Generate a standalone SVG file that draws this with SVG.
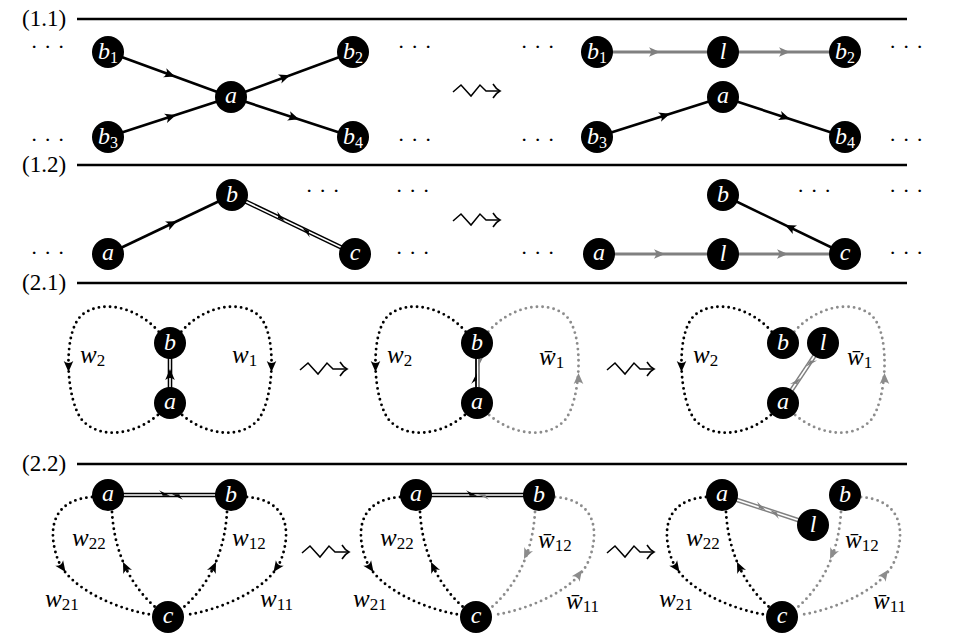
<svg xmlns="http://www.w3.org/2000/svg" xmlns:xlink="http://www.w3.org/1999/xlink" width="954" height="634" viewBox="0 0 954 634">
<defs>
<style>
.rule{stroke:#000;stroke-width:2.6}
.sec{font-family:"Liberation Serif",serif;font-size:23px;fill:#000}
.dots{font-family:"Liberation Serif",serif;font-size:22px;fill:#000;letter-spacing:6.2px}
.nd circle{fill:#000}
.nd text{font-family:"Liberation Serif",serif;font-style:italic;font-size:24px;fill:#fff;text-anchor:middle}
.sub{font-style:normal;font-size:16px}
.e{stroke:#000;stroke-width:2.6;fill:none}
.g{stroke:#808080;stroke-width:3.2;fill:none}
.dk{stroke:#000;stroke-width:2.9;stroke-dasharray:0 5.6;stroke-linecap:round;fill:none}
.dg{stroke:#8c8c8c;stroke-width:2.9;stroke-dasharray:0 5.6;stroke-linecap:round;fill:none}
.dblk{stroke:#000;stroke-width:4.6;fill:none}
.dblg{stroke:#808080;stroke-width:4.6;fill:none}
.dbli{stroke:#fff;stroke-width:1.6;fill:none}
.wl{font-family:"Liberation Serif",serif;font-style:italic;font-size:25px;fill:#000}
.wl .sub{font-size:17px}
</style>
<path id="ah" d="M0,0 L-11,-4.8 Q-7,0 -11,4.8 Z"/>
<path id="hh" d="M0,0.8 L-11,-4.8 Q-7.5,-1.5 -7.5,0.8 Z"/>
<g id="sq" stroke="#000" stroke-width="1.5" fill="none"><path d="M0,1 L8,-6 L18,5 L27,-6 L33,0 L47,0"/><path d="M40,-7 Q43,-2 47,0 Q43,2 40,7"/></g>
</defs>
<rect width="954" height="634" fill="#fff"/>

<g id="rules">
<line class="rule" x1="77" y1="19" x2="907" y2="19"/>
<line class="rule" x1="77" y1="165" x2="907" y2="165"/>
<line class="rule" x1="77" y1="283" x2="907" y2="283"/>
<line class="rule" x1="77" y1="464" x2="907" y2="464"/>
<text class="sec" x="22" y="26">(1.1)</text>
<text class="sec" x="22" y="172">(1.2)</text>
<text class="sec" x="22" y="290">(2.1)</text>
<text class="sec" x="22" y="471">(2.2)</text>
</g>

<g id="ellipses">
<text class="dots" x="30.5" y="54">···</text>
<text class="dots" x="30.5" y="146.5">···</text>
<text class="dots" x="397.5" y="54">···</text>
<text class="dots" x="397.5" y="146.5">···</text>
<text class="dots" x="520.5" y="54">···</text>
<text class="dots" x="520.5" y="146.5">···</text>
<text class="dots" x="889" y="54">···</text>
<text class="dots" x="889" y="146.5">···</text>
<text class="dots" x="30.5" y="259.5">···</text>
<text class="dots" x="305.5" y="197.5">···</text>
<text class="dots" x="395.5" y="197.5">···</text>
<text class="dots" x="395.5" y="259.5">···</text>
<text class="dots" x="520.5" y="259.5">···</text>
<text class="dots" x="797" y="197.5">···</text>
<text class="dots" x="889" y="197.5">···</text>
<text class="dots" x="889" y="259.5">···</text>
</g>

<g id="transitions">
<use xlink:href="#sq" href="#sq" transform="translate(453,91)"/>
<use xlink:href="#sq" href="#sq" transform="translate(453,220)"/>
<use xlink:href="#sq" href="#sq" transform="translate(300,369)"/>
<use xlink:href="#sq" href="#sq" transform="translate(607,369)"/>
<use xlink:href="#sq" href="#sq" transform="translate(302,552)"/>
<use xlink:href="#sq" href="#sq" transform="translate(607,552)"/>
</g>

<g id="connectors">
<!-- (1.1) left -->
<line class="e" x1="108" y1="52" x2="231" y2="97"/>
<line class="e" x1="108" y1="137" x2="231" y2="97"/>
<line class="e" x1="231" y1="97" x2="353" y2="52"/>
<line class="e" x1="231" y1="97" x2="353" y2="137"/>
<use href="#ah" xlink:href="#ah" fill="#000" transform="translate(175,76.5) rotate(20.1)"/>
<use href="#ah" xlink:href="#ah" fill="#000" transform="translate(176,115) rotate(-18)"/>
<use href="#ah" xlink:href="#ah" fill="#000" transform="translate(290,75.3) rotate(-20.2)"/>
<use href="#ah" xlink:href="#ah" fill="#000" transform="translate(299,119.3) rotate(18.2)"/>
<!-- (1.1) right -->
<line class="g" x1="597" y1="52" x2="845" y2="52"/>
<line class="e" x1="597" y1="137" x2="723" y2="97"/>
<line class="e" x1="723" y1="97" x2="845" y2="137"/>
<use href="#ah" xlink:href="#ah" fill="#808080" transform="translate(660,52)"/>
<use href="#ah" xlink:href="#ah" fill="#808080" transform="translate(790,52)"/>
<use href="#ah" xlink:href="#ah" fill="#000" transform="translate(670,113.8) rotate(-17.6)"/>
<use href="#ah" xlink:href="#ah" fill="#000" transform="translate(790,119) rotate(18.2)"/>
<!-- (1.2) left -->
<line class="e" x1="108" y1="254" x2="232" y2="195"/>
<use href="#ah" xlink:href="#ah" fill="#000" transform="translate(177,221.2) rotate(-25.4)"/>
<line class="dblk" x1="232" y1="195" x2="355" y2="254"/>
<line class="dbli" x1="232" y1="195" x2="355" y2="254"/>
<use href="#hh" xlink:href="#hh" fill="#000" transform="translate(285,220.4) rotate(25.6)"/>
<use href="#hh" xlink:href="#hh" fill="#000" transform="translate(302,228.5) rotate(205.6)"/>
<!-- (1.2) right -->
<line class="g" x1="599" y1="254" x2="845" y2="254"/>
<use href="#ah" xlink:href="#ah" fill="#808080" transform="translate(665,254)"/>
<use href="#ah" xlink:href="#ah" fill="#808080" transform="translate(788,254)"/>
<line class="e" x1="845" y1="254" x2="723" y2="195"/>
<use href="#ah" xlink:href="#ah" fill="#000" transform="translate(785,225) rotate(205.8)"/>

<!-- (2.1) panel 1 -->
<path class="dk" d="M158.7,331.7 C135,305 100,300 82,315 C62,332 66,400 82,420 C100,440 135,435 158.7,414.3"/>
<path class="dk" d="M181.3,331.7 C205,305 240,300 258,315 C278,332 274,400 258,420 C240,440 205,435 181.3,414.3"/>
<use href="#ah" xlink:href="#ah" fill="#000" transform="translate(68.5,372) rotate(90)"/>
<use href="#ah" xlink:href="#ah" fill="#000" transform="translate(271.5,372) rotate(90)"/>
<line class="dblk" x1="170" y1="343" x2="170" y2="403"/>
<line class="dbli" x1="170" y1="343" x2="170" y2="403"/>
<use href="#ah" xlink:href="#ah" fill="#000" transform="translate(170,369) rotate(-90)"/>
<!-- (2.1) panel 2 -->
<g transform="translate(307,0)">
<path class="dk" d="M158.7,331.7 C135,305 100,300 82,315 C62,332 66,400 82,420 C100,440 135,435 158.7,414.3"/>
<path class="dg" d="M181.3,331.7 C205,305 240,300 258,315 C278,332 274,400 258,420 C240,440 205,435 181.3,414.3"/>
</g>
<use href="#ah" xlink:href="#ah" fill="#000" transform="translate(375.5,372) rotate(90)"/>
<use href="#ah" xlink:href="#ah" fill="#8c8c8c" transform="translate(578.5,373) rotate(-90)"/>
<line stroke="#000" stroke-width="1.8" x1="476" y1="343" x2="476" y2="403"/>
<line stroke="#808080" stroke-width="1.8" x1="479" y1="343" x2="479" y2="403"/>
<use href="#hh" xlink:href="#hh" fill="#000" transform="translate(476,373) rotate(-90)"/>
<use href="#hh" xlink:href="#hh" fill="#808080" transform="translate(479,367) rotate(90)"/>
<!-- (2.1) panel 3 -->
<g transform="translate(613,0)">
<path class="dk" d="M158.7,331.7 C135,305 100,300 82,315 C62,332 66,400 82,420 C100,440 135,435 158.7,414.3"/>
<path class="dg" d="M181.3,331.7 C205,305 240,300 258,315 C278,332 274,400 258,420 C240,440 205,435 181.3,414.3"/>
</g>
<use href="#ah" xlink:href="#ah" fill="#000" transform="translate(681.5,372) rotate(90)"/>
<use href="#ah" xlink:href="#ah" fill="#8c8c8c" transform="translate(884.5,373) rotate(-90)"/>
<line class="dblg" x1="783" y1="403" x2="823" y2="343"/>
<line class="dbli" x1="783" y1="403" x2="823" y2="343"/>
<use href="#hh" xlink:href="#hh" fill="#808080" transform="translate(800,377.5) rotate(-56.3)"/>
<use href="#hh" xlink:href="#hh" fill="#808080" transform="translate(807,367) rotate(123.7)"/>

<!-- (2.2) panel 1 -->
<path class="dk" d="M92,497 C52,500 47,530 58,560 C70,590 120,610 153,615"/>
<path class="dk" d="M112,512 C114,545 125,580 155,607"/>
<path class="dk" d="M227,512 C225,545 214,580 184,607"/>
<path class="dk" d="M247,497 C287,500 292,530 281,560 C269,590 219,610 186,615"/>
<use href="#ah" xlink:href="#ah" fill="#000" transform="translate(65.5,572) rotate(55)"/>
<use href="#ah" xlink:href="#ah" fill="#000" transform="translate(123,562) rotate(-115)"/>
<use href="#ah" xlink:href="#ah" fill="#000" transform="translate(216,562) rotate(-65)"/>
<use href="#ah" xlink:href="#ah" fill="#000" transform="translate(273.5,572) rotate(125)"/>
<line class="dblk" x1="108" y1="495" x2="231" y2="495"/>
<line class="dbli" x1="108" y1="495" x2="231" y2="495"/>
<use href="#hh" xlink:href="#hh" fill="#000" transform="translate(170,495)"/>
<use href="#hh" xlink:href="#hh" fill="#000" transform="translate(172,495) rotate(180)"/>
<!-- (2.2) panel 2 -->
<g transform="translate(308,0)">
<path class="dk" d="M92,497 C52,500 47,530 58,560 C70,590 120,610 153,615"/>
<path class="dk" d="M112,512 C114,545 125,580 155,607"/>
<path class="dg" d="M227,512 C225,545 214,580 184,607"/>
<path class="dg" d="M247,497 C287,500 292,530 281,560 C269,590 219,610 186,615"/>
</g>
<use href="#ah" xlink:href="#ah" fill="#000" transform="translate(373.5,572) rotate(55)"/>
<use href="#ah" xlink:href="#ah" fill="#000" transform="translate(431,562) rotate(-115)"/>
<use href="#ah" xlink:href="#ah" fill="#8c8c8c" transform="translate(524,559) rotate(115)"/>
<use href="#ah" xlink:href="#ah" fill="#8c8c8c" transform="translate(582,570) rotate(-55)"/>
<line class="dblk" x1="416" y1="495" x2="539" y2="495"/>
<line class="dbli" x1="416" y1="495" x2="539" y2="495"/>
<use href="#hh" xlink:href="#hh" fill="#000" transform="translate(477,495)"/>
<use href="#hh" xlink:href="#hh" fill="#808080" transform="translate(478,495) rotate(180)"/>
<!-- (2.2) panel 3 -->
<g transform="translate(614,0)">
<path class="dk" d="M92,497 C52,500 47,530 58,560 C70,590 120,610 153,615"/>
<path class="dk" d="M112,512 C114,545 125,580 155,607"/>
<path class="dg" d="M227,512 C225,545 214,580 184,607"/>
<path class="dg" d="M247,497 C287,500 292,530 281,560 C269,590 219,610 186,615"/>
</g>
<use href="#ah" xlink:href="#ah" fill="#000" transform="translate(679.5,572) rotate(55)"/>
<use href="#ah" xlink:href="#ah" fill="#000" transform="translate(737,562) rotate(-115)"/>
<use href="#ah" xlink:href="#ah" fill="#8c8c8c" transform="translate(830,559) rotate(115)"/>
<use href="#ah" xlink:href="#ah" fill="#8c8c8c" transform="translate(888,570) rotate(-55)"/>
<line class="dblg" x1="722" y1="495" x2="813" y2="525"/>
<line class="dbli" x1="722" y1="495" x2="813" y2="525"/>
<use href="#hh" xlink:href="#hh" fill="#808080" transform="translate(766,509.5) rotate(18.2)"/>
<use href="#hh" xlink:href="#hh" fill="#808080" transform="translate(770,511) rotate(198.2)"/>
</g>

<g id="edge-labels">
<text class="wl" x="80" y="363">w<tspan class="sub" dy="3">2</tspan></text>
<text class="wl" x="232" y="363">w<tspan class="sub" dy="3">1</tspan></text>
<text class="wl" x="387" y="363">w<tspan class="sub" dy="3">2</tspan></text>
<text class="wl" x="539" y="365">w̄<tspan class="sub" dy="3">1</tspan></text>
<text class="wl" x="693" y="363">w<tspan class="sub" dy="3">2</tspan></text>
<text class="wl" x="847" y="365">w̄<tspan class="sub" dy="3">1</tspan></text>
<text class="wl" x="72" y="546">w<tspan class="sub" dy="3">22</tspan></text>
<text class="wl" x="232" y="546">w<tspan class="sub" dy="3">12</tspan></text>
<text class="wl" x="45" y="607">w<tspan class="sub" dy="3">21</tspan></text>
<text class="wl" x="260" y="607">w<tspan class="sub" dy="3">11</tspan></text>
<text class="wl" x="380" y="546">w<tspan class="sub" dy="3">22</tspan></text>
<text class="wl" x="538" y="548">w̄<tspan class="sub" dy="3">12</tspan></text>
<text class="wl" x="353" y="607">w<tspan class="sub" dy="3">21</tspan></text>
<text class="wl" x="566" y="609">w̄<tspan class="sub" dy="3">11</tspan></text>
<text class="wl" x="686" y="546">w<tspan class="sub" dy="3">22</tspan></text>
<text class="wl" x="845" y="548">w̄<tspan class="sub" dy="3">12</tspan></text>
<text class="wl" x="659" y="607">w<tspan class="sub" dy="3">21</tspan></text>
<text class="wl" x="873" y="609">w̄<tspan class="sub" dy="3">11</tspan></text>
</g>

<!-- nodes (1.1) left -->
<g id="n11L-b1" class="nd"><circle cx="108" cy="52" r="16"/><text x="108" y="59">b<tspan class="sub" dy="4">1</tspan></text></g>
<g id="n11L-b2" class="nd"><circle cx="353" cy="52" r="16"/><text x="353" y="59">b<tspan class="sub" dy="4">2</tspan></text></g>
<g id="n11L-a" class="nd"><circle cx="231" cy="97" r="16"/><text x="231" y="103">a</text></g>
<g id="n11L-b3" class="nd"><circle cx="108" cy="137" r="16"/><text x="108" y="144">b<tspan class="sub" dy="4">3</tspan></text></g>
<g id="n11L-b4" class="nd"><circle cx="353" cy="137" r="16"/><text x="353" y="144">b<tspan class="sub" dy="4">4</tspan></text></g>
<!-- (1.1) right -->
<g id="n11R-b1" class="nd"><circle cx="597" cy="52" r="16"/><text x="597" y="59">b<tspan class="sub" dy="4">1</tspan></text></g>
<g id="n11R-l" class="nd"><circle cx="723" cy="52" r="16"/><text x="723" y="59">l</text></g>
<g id="n11R-b2" class="nd"><circle cx="845" cy="52" r="16"/><text x="845" y="59">b<tspan class="sub" dy="4">2</tspan></text></g>
<g id="n11R-a" class="nd"><circle cx="723" cy="97" r="16"/><text x="723" y="103">a</text></g>
<g id="n11R-b3" class="nd"><circle cx="597" cy="137" r="16"/><text x="597" y="144">b<tspan class="sub" dy="4">3</tspan></text></g>
<g id="n11R-b4" class="nd"><circle cx="845" cy="137" r="16"/><text x="845" y="144">b<tspan class="sub" dy="4">4</tspan></text></g>
<!-- (1.2) -->
<g id="n12L-a" class="nd"><circle cx="108" cy="254" r="16"/><text x="108" y="260">a</text></g>
<g id="n12L-b" class="nd"><circle cx="232" cy="195" r="16"/><text x="232" y="202">b</text></g>
<g id="n12L-c" class="nd"><circle cx="355" cy="254" r="16"/><text x="355" y="260">c</text></g>
<g id="n12R-a" class="nd"><circle cx="599" cy="254" r="16"/><text x="599" y="260">a</text></g>
<g id="n12R-l" class="nd"><circle cx="723" cy="254" r="16"/><text x="723" y="261">l</text></g>
<g id="n12R-c" class="nd"><circle cx="845" cy="254" r="16"/><text x="845" y="260">c</text></g>
<g id="n12R-b" class="nd"><circle cx="723" cy="195" r="16"/><text x="723" y="202">b</text></g>
<!-- (2.1) -->
<g id="n21A-b" class="nd"><circle cx="170" cy="343" r="16"/><text x="170" y="350">b</text></g>
<g id="n21A-a" class="nd"><circle cx="170" cy="403" r="16"/><text x="170" y="409">a</text></g>
<g id="n21B-b" class="nd"><circle cx="477" cy="343" r="16"/><text x="477" y="350">b</text></g>
<g id="n21B-a" class="nd"><circle cx="477" cy="403" r="16"/><text x="477" y="409">a</text></g>
<g id="n21C-b" class="nd"><circle cx="783" cy="343" r="16"/><text x="783" y="350">b</text></g>
<g id="n21C-l" class="nd"><circle cx="823" cy="343" r="16"/><text x="823" y="350">l</text></g>
<g id="n21C-a" class="nd"><circle cx="783" cy="403" r="16"/><text x="783" y="409">a</text></g>
<!-- (2.2) -->
<g id="n22A-a" class="nd"><circle cx="108" cy="495" r="16"/><text x="108" y="501">a</text></g>
<g id="n22A-b" class="nd"><circle cx="231" cy="495" r="16"/><text x="231" y="502">b</text></g>
<g id="n22A-c" class="nd"><circle cx="168" cy="617" r="16"/><text x="168" y="623">c</text></g>
<g id="n22B-a" class="nd"><circle cx="416" cy="495" r="16"/><text x="416" y="501">a</text></g>
<g id="n22B-b" class="nd"><circle cx="539" cy="495" r="16"/><text x="539" y="502">b</text></g>
<g id="n22B-c" class="nd"><circle cx="476" cy="617" r="16"/><text x="476" y="623">c</text></g>
<g id="n22C-a" class="nd"><circle cx="722" cy="495" r="16"/><text x="722" y="501">a</text></g>
<g id="n22C-l" class="nd"><circle cx="813" cy="525" r="16"/><text x="813" y="532">l</text></g>
<g id="n22C-b" class="nd"><circle cx="845" cy="495" r="16"/><text x="845" y="502">b</text></g>
<g id="n22C-c" class="nd"><circle cx="782" cy="617" r="16"/><text x="782" y="623">c</text></g>
</svg>
